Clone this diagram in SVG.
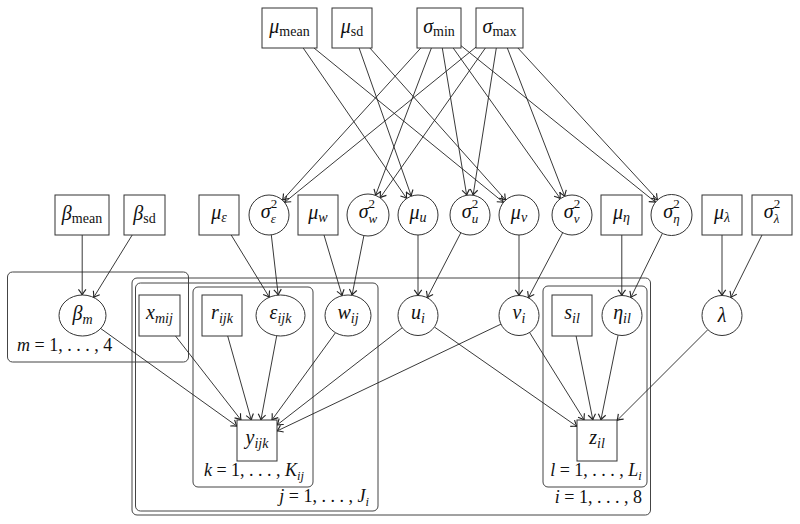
<svg xmlns="http://www.w3.org/2000/svg" width="800" height="524" viewBox="0 0 800 524">
<defs>
<style>
.n{fill:#fff;stroke:#333;stroke-width:1}
.p{fill:none;stroke:#444;stroke-width:1}
#edges line{stroke:#222;stroke-width:0.9;marker-end:url(#a)}
text{font-family:"Liberation Serif","DejaVu Serif",serif;font-size:20px;fill:#111}
.c{text-anchor:middle}
.i{font-style:italic}
.s{font-size:14px}
.q{font-size:13px}
.pl{font-size:18px}
.pl .s{font-size:12.5px}
</style>
<marker id="a" markerUnits="userSpaceOnUse" markerWidth="10" markerHeight="10" viewBox="-6 -4 7 8" refX="0" refY="0" orient="auto">
<path d="M-4.5,-3 Q-1.5,-0.6 0,0 Q-1.5,0.6 -4.5,3" fill="none" stroke="#222" stroke-width="0.9"/>
</marker>
</defs>
<rect width="800" height="524" fill="#fff"/>

<g id="plates">
<rect class="p" x="7.5" y="272" width="181" height="90" rx="5"/>
<rect class="p" x="132" y="278" width="518.5" height="237" rx="5"/>
<rect class="p" x="135.5" y="283" width="242.5" height="228" rx="5"/>
<rect class="p" x="193" y="287" width="120" height="200" rx="5"/>
<rect class="p" x="543" y="286" width="104" height="201" rx="5"/>
<text class="pl" x="17" y="351"><tspan class="i">m</tspan> = 1, . . . , 4</text>
<text class="pl c" x="254" y="476"><tspan class="i">k</tspan> = 1, . . . , <tspan class="i">K</tspan><tspan class="s i" dy="4">ij</tspan></text>
<text class="pl" x="369" y="502" text-anchor="end"><tspan class="i">j</tspan> = 1, . . . , <tspan class="i">J</tspan><tspan class="s i" dy="4">i</tspan></text>
<text class="pl c" x="596" y="476"><tspan class="i">l</tspan> = 1, . . . , <tspan class="i">L</tspan><tspan class="s i" dy="4">i</tspan></text>
<text class="pl" x="642" y="503" text-anchor="end"><tspan class="i">i</tspan> = 1, . . . , 8</text>
</g>

<g id="edges">
<line x1="303.2" y1="48" x2="406.7" y2="198.5"/>
<line x1="314" y1="48" x2="503.5" y2="202.4"/>
<line x1="359.1" y1="48" x2="411.3" y2="196.1"/>
<line x1="369.9" y1="48" x2="505.7" y2="200.1"/>
<line x1="420.8" y1="48" x2="282.5" y2="200.2"/>
<line x1="431.4" y1="48" x2="375.5" y2="195.4"/>
<line x1="442.3" y1="48" x2="466.7" y2="195.3"/>
<line x1="453.2" y1="48" x2="560.4" y2="198.7"/>
<line x1="461" y1="45.7" x2="655.5" y2="202.2"/>
<line x1="476" y1="47.1" x2="284.5" y2="202.4"/>
<line x1="485.4" y1="48" x2="380.1" y2="197.8"/>
<line x1="496.3" y1="48" x2="473.1" y2="195.2"/>
<line x1="507.3" y1="48" x2="564.8" y2="196.4"/>
<line x1="517.9" y1="48" x2="657.6" y2="199.9"/>

<line x1="82.2" y1="235" x2="82.2" y2="295"/>
<line x1="132.2" y1="235" x2="93.6" y2="297.5"/>
<line x1="231.2" y1="235" x2="269.3" y2="297.3"/>
<line x1="271.3" y1="234.9" x2="278.2" y2="295.1"/>
<line x1="324" y1="235" x2="342.1" y2="295.7"/>
<line x1="363.9" y1="235.6" x2="352" y2="295.3"/>
<line x1="418" y1="235" x2="418" y2="295.5"/>
<line x1="460.8" y1="232.8" x2="427.2" y2="297.7"/>
<line x1="519" y1="235" x2="519" y2="295.5"/>
<line x1="562.7" y1="232.7" x2="528.3" y2="297.8"/>
<line x1="621.8" y1="235" x2="621.8" y2="295.5"/>
<line x1="662.4" y1="233.4" x2="630.8" y2="297.6"/>
<line x1="722" y1="235" x2="722" y2="295.5"/>
<line x1="762" y1="235" x2="730.9" y2="297.6"/>

<line x1="100.7" y1="328.5" x2="237" y2="426.2"/>
<line x1="175.5" y1="336" x2="241" y2="420"/>
<line x1="227.7" y1="336" x2="251.3" y2="420"/>
<line x1="276.7" y1="335.8" x2="260.9" y2="420"/>
<line x1="335.5" y1="332.7" x2="271.9" y2="420"/>
<line x1="402.2" y1="327.8" x2="277" y2="425"/>
<line x1="501" y1="324.1" x2="277" y2="431"/>
<line x1="434.4" y1="327" x2="577" y2="426.5"/>
<line x1="529.6" y1="332.5" x2="584.2" y2="420"/>
<line x1="576.1" y1="336" x2="592.9" y2="420"/>
<line x1="618.1" y1="335.1" x2="600.9" y2="420"/>
<line x1="707.9" y1="329.6" x2="617" y2="420.5"/>
</g>

<g id="mu_mean"><rect class="n" x="262" y="8" width="55" height="40"/><text class="c" x="289.5" y="33"><tspan class="i">μ</tspan><tspan class="s" dy="3">mean</tspan></text></g>
<g id="mu_sd"><rect class="n" x="332" y="8" width="40" height="40"/><text class="c" x="352" y="33"><tspan class="i">μ</tspan><tspan class="s" dy="3">sd</tspan></text></g>
<g id="sigma_min"><rect class="n" x="417" y="8" width="44" height="40"/><text class="c" x="439" y="33"><tspan class="i">σ</tspan><tspan class="s" dy="3">min</tspan></text></g>
<g id="sigma_max"><rect class="n" x="476" y="8" width="47" height="40"/><text class="c" x="499.5" y="33"><tspan class="i">σ</tspan><tspan class="s" dy="3">max</tspan></text></g>

<g id="beta_mean"><rect class="n" x="55" y="195" width="54" height="40"/><text class="c" x="82" y="220"><tspan class="i">β</tspan><tspan class="s" dy="3">mean</tspan></text></g>
<g id="beta_sd"><rect class="n" x="124" y="195" width="41" height="40"/><text class="c" x="144.5" y="220"><tspan class="i">β</tspan><tspan class="s" dy="3">sd</tspan></text></g>
<g id="mu_eps"><rect class="n" x="199" y="195" width="40" height="40"/><text class="c" x="219" y="219"><tspan class="i">μ</tspan><tspan class="s i" dy="3">ε</tspan></text></g>
<g id="sigma2_eps"><circle class="n" cx="269" cy="215" r="20"/><text class="c" x="269" y="218"><tspan class="i">σ</tspan><tspan class="q" dy="-10">2</tspan><tspan class="q i" dx="-6.5" dy="15">ε</tspan></text></g>
<g id="mu_w"><rect class="n" x="298" y="195" width="40" height="40"/><text class="c" x="318" y="219"><tspan class="i">μ</tspan><tspan class="s i" dy="3">w</tspan></text></g>
<g id="sigma2_w"><circle class="n" cx="368" cy="215" r="21"/><text class="c" x="368" y="218"><tspan class="i">σ</tspan><tspan class="q" dy="-10">2</tspan><tspan class="q i" dx="-6.5" dy="15">w</tspan></text></g>
<g id="mu_u"><circle class="n" cx="418" cy="215" r="20"/><text class="c" x="418" y="219"><tspan class="i">μ</tspan><tspan class="s i" dy="3">u</tspan></text></g>
<g id="sigma2_u"><circle class="n" cx="470" cy="215" r="20"/><text class="c" x="470" y="218"><tspan class="i">σ</tspan><tspan class="q" dy="-10">2</tspan><tspan class="q i" dx="-6.5" dy="15">u</tspan></text></g>
<g id="mu_v"><circle class="n" cx="519" cy="215" r="20"/><text class="c" x="519" y="219"><tspan class="i">μ</tspan><tspan class="s i" dy="3">v</tspan></text></g>
<g id="sigma2_v"><circle class="n" cx="572" cy="215" r="20"/><text class="c" x="572" y="218"><tspan class="i">σ</tspan><tspan class="q" dy="-10">2</tspan><tspan class="q i" dx="-6.5" dy="15">v</tspan></text></g>
<g id="mu_eta"><rect class="n" x="601" y="195" width="41" height="40"/><text class="c" x="621.5" y="219"><tspan class="i">μ</tspan><tspan class="s i" dy="3">η</tspan></text></g>
<g id="sigma2_eta"><circle class="n" cx="671.5" cy="215" r="20.5"/><text class="c" x="671.5" y="218"><tspan class="i">σ</tspan><tspan class="q" dy="-10">2</tspan><tspan class="q i" dx="-6.5" dy="15">η</tspan></text></g>
<g id="mu_lambda"><rect class="n" x="702" y="195" width="40" height="40"/><text class="c" x="722" y="219"><tspan class="i">μ</tspan><tspan class="s i" dy="3">λ</tspan></text></g>
<g id="sigma2_lambda"><rect class="n" x="752" y="195" width="40" height="40"/><text class="c" x="772" y="218"><tspan class="i">σ</tspan><tspan class="q" dy="-10">2</tspan><tspan class="q i" dx="-6.5" dy="15">λ</tspan></text></g>

<g id="beta_m"><ellipse class="n" cx="82.5" cy="315.5" rx="23.5" ry="20.5"/><text class="c" x="82.5" y="320"><tspan class="i">β</tspan><tspan class="s i" dy="4">m</tspan></text></g>
<g id="x_mij"><rect class="n" x="139" y="295" width="41" height="41"/><text class="c" x="159.5" y="319"><tspan class="i">x</tspan><tspan class="s i" dy="4">mij</tspan></text></g>
<g id="r_ijk"><rect class="n" x="202" y="295" width="40" height="41"/><text class="c" x="222" y="319"><tspan class="i">r</tspan><tspan class="s i" dy="4">ijk</tspan></text></g>
<g id="eps_ijk"><ellipse class="n" cx="280.5" cy="315.5" rx="24.5" ry="20.5"/><text class="c" x="280.5" y="319"><tspan class="i">ε</tspan><tspan class="s i" dy="4">ijk</tspan></text></g>
<g id="w_ij"><ellipse class="n" cx="348" cy="315.5" rx="23" ry="20.5"/><text class="c" x="348" y="319"><tspan class="i">w</tspan><tspan class="s i" dy="4">ij</tspan></text></g>
<g id="u_i"><circle class="n" cx="418" cy="315.5" r="20"/><text class="c" x="418" y="319"><tspan class="i">u</tspan><tspan class="s i" dy="4">i</tspan></text></g>
<g id="v_i"><circle class="n" cx="519" cy="315.5" r="20"/><text class="c" x="519" y="319"><tspan class="i">v</tspan><tspan class="s i" dy="4">i</tspan></text></g>
<g id="s_il"><rect class="n" x="552" y="295" width="40" height="41"/><text class="c" x="572" y="319"><tspan class="i">s</tspan><tspan class="s i" dy="4">il</tspan></text></g>
<g id="eta_il"><circle class="n" cx="622" cy="315.5" r="20"/><text class="c" x="622" y="319"><tspan class="i">η</tspan><tspan class="s i" dy="4">il</tspan></text></g>
<g id="lambda"><circle class="n" cx="722" cy="315.5" r="20"/><text class="c" x="722" y="322"><tspan class="i">λ</tspan></text></g>

<g id="y_ijk"><rect class="n" x="237" y="420" width="40" height="41"/><text class="c" x="257" y="444"><tspan class="i">y</tspan><tspan class="s i" dy="4">ijk</tspan></text></g>
<g id="z_il"><rect class="n" x="577" y="420" width="40" height="41"/><text class="c" x="597" y="444"><tspan class="i">z</tspan><tspan class="s i" dy="4">il</tspan></text></g>
</svg>
